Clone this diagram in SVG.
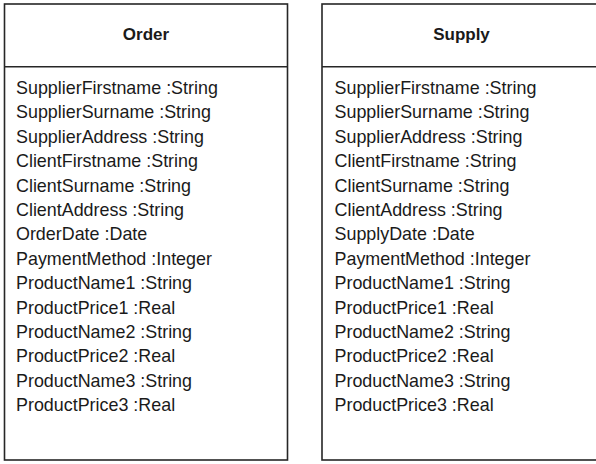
<svg xmlns="http://www.w3.org/2000/svg" width="596" height="464" viewBox="0 0 596 464">
  <style>
    .box { fill: #ffffff; stroke: #262626; stroke-width: 1.6; }
    .sep { stroke: #262626; stroke-width: 1.6; fill: none; }
    .title { font-family: "Liberation Sans", Arial, sans-serif; font-size: 17px; font-weight: bold; fill: #1a1a1a; text-anchor: middle; }
    .attr { font-family: "Liberation Sans", Arial, sans-serif; font-size: 17.9px; fill: #1a1a1a; }
  </style>
  <rect width="596" height="464" fill="#ffffff"/>

  <!-- Order class -->
  <g id="order">
    <rect class="box" x="4.5" y="4" width="283" height="456"/>
    <line class="sep" x1="4.5" y1="66.7" x2="287.5" y2="66.7"/>
    <text class="title" x="146" y="40">Order</text>
    <text class="attr" x="16">
      <tspan x="16" y="94">SupplierFirstname :String</tspan>
      <tspan x="16" y="118.4">SupplierSurname :String</tspan>
      <tspan x="16" y="142.8">SupplierAddress :String</tspan>
      <tspan x="16" y="167.2">ClientFirstname :String</tspan>
      <tspan x="16" y="191.6">ClientSurname :String</tspan>
      <tspan x="16" y="216">ClientAddress :String</tspan>
      <tspan x="16" y="240.4">OrderDate :Date</tspan>
      <tspan x="16" y="264.8">PaymentMethod :Integer</tspan>
      <tspan x="16" y="289.2">ProductName1 :String</tspan>
      <tspan x="16" y="313.6">ProductPrice1 :Real</tspan>
      <tspan x="16" y="338">ProductName2 :String</tspan>
      <tspan x="16" y="362.4">ProductPrice2 :Real</tspan>
      <tspan x="16" y="386.8">ProductName3 :String</tspan>
      <tspan x="16" y="411.2">ProductPrice3 :Real</tspan>
    </text>
  </g>

  <!-- Supply class -->
  <g id="supply">
    <rect class="box" x="322" y="4" width="279" height="456"/>
    <line class="sep" x1="322" y1="66.7" x2="601" y2="66.7"/>
    <text class="title" x="461.5" y="40">Supply</text>
    <text class="attr" x="334.5">
      <tspan x="334.5" y="94">SupplierFirstname :String</tspan>
      <tspan x="334.5" y="118.4">SupplierSurname :String</tspan>
      <tspan x="334.5" y="142.8">SupplierAddress :String</tspan>
      <tspan x="334.5" y="167.2">ClientFirstname :String</tspan>
      <tspan x="334.5" y="191.6">ClientSurname :String</tspan>
      <tspan x="334.5" y="216">ClientAddress :String</tspan>
      <tspan x="334.5" y="240.4">SupplyDate :Date</tspan>
      <tspan x="334.5" y="264.8">PaymentMethod :Integer</tspan>
      <tspan x="334.5" y="289.2">ProductName1 :String</tspan>
      <tspan x="334.5" y="313.6">ProductPrice1 :Real</tspan>
      <tspan x="334.5" y="338">ProductName2 :String</tspan>
      <tspan x="334.5" y="362.4">ProductPrice2 :Real</tspan>
      <tspan x="334.5" y="386.8">ProductName3 :String</tspan>
      <tspan x="334.5" y="411.2">ProductPrice3 :Real</tspan>
    </text>
  </g>

  <!-- no associations between the two classes -->
  <g id="connectors"/>
</svg>
